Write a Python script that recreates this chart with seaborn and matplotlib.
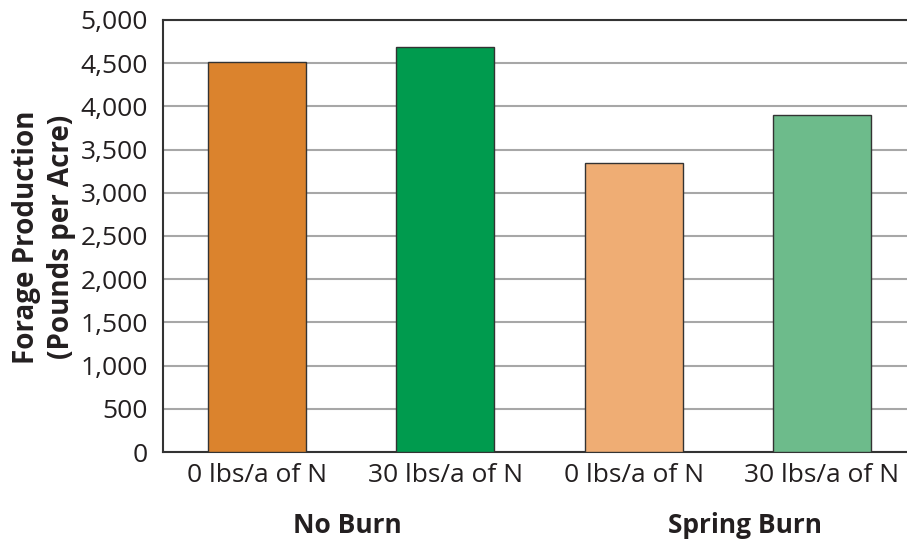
import matplotlib
matplotlib.use("Agg")
import matplotlib.pyplot as plt
import matplotlib.transforms as mtransforms
import pandas as pd
import seaborn as sns

# Data
bar_ids = ["nb_0", "nb_30", "sb_0", "sb_30"]
tick_labels = ["0 lbs/a of N", "30 lbs/a of N", "0 lbs/a of N", "30 lbs/a of N"]
forage = [4510, 4690, 3345, 3900]
bar_colors = ["#DB832D", "#009B4E", "#EFAD74", "#6DBB8B"]
groups = ["No Burn", "Spring Burn"]
group_pos = [0.48, 2.59]
y_ticks = list(range(0, 5001, 500))

df = pd.DataFrame({"bar": bar_ids, "forage": forage})

sns.set_style("white")
plt.rcParams["font.family"] = ["Open Sans", "DejaVu Sans"]

fig = plt.figure(figsize=(9.07, 5.41), dpi=100)
ax = fig.add_axes([163 / 907, 1 - 452 / 541, 1 - 163 / 907, (452 - 20) / 541])

sns.barplot(data=df, x="bar", y="forage", hue="bar", order=bar_ids,
            palette=dict(zip(bar_ids, bar_colors)), legend=False,
            width=0.52, edgecolor="#333333", linewidth=1.0, saturation=1, ax=ax, zorder=3)

ax.set_ylim(0, 5000)
ax.set_xlim(-0.5, 3.452)
ax.set_yticks(y_ticks)
ax.set_yticklabels([f"{v:,}" for v in y_ticks], fontsize=19, color="#231F20")
ax.set_xticks(range(len(bar_ids)))
ax.set_xticklabels(tick_labels, fontsize=19, color="#231F20")
ax.set_xticks([0.5, 1.5, 2.5], minor=True)
ax.tick_params(axis="x", which="major", length=0, pad=8)
ax.tick_params(axis="x", which="minor", direction="in", length=8, width=1.2, color="#333333")
ax.tick_params(axis="y", length=0, pad=11)

ax.yaxis.grid(True, color="#A7A7A7", linewidth=1.5, zorder=0)
ax.set_axisbelow(True)
ax.set_xlabel("")
ax.set_ylabel("")

for side in ["left", "bottom", "top"]:
    ax.spines[side].set_color("#333333")
    ax.spines[side].set_linewidth(1.5)
ax.spines["right"].set_visible(False)

trans = mtransforms.blended_transform_factory(ax.transData, ax.transAxes)
for name, pos in zip(groups, group_pos):
    ax.text(pos, -0.169, name, transform=trans, ha="center", va="center",
            fontsize=19, fontweight="bold", color="#231F20")

fig.text(44 / 907, 1 - 237 / 541, "Forage Production\n(Pounds per Acre)", rotation=90,
         ha="center", va="center", multialignment="center", fontsize=20,
         fontweight="bold", color="#231F20", linespacing=1.25)

fig.savefig("out.png", dpi=100)
